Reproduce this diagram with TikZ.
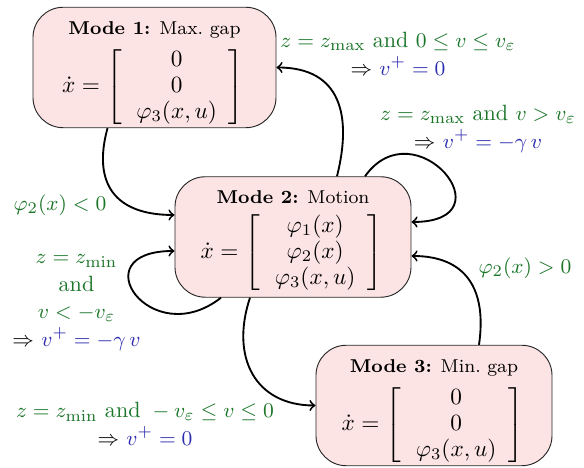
\documentclass[tikz,border=0pt]{standalone}
\usepackage{amsmath}
\usepackage{graphicx}
\usetikzlibrary{calc}
\definecolor{lblgreen}{RGB}{28,118,42}
\definecolor{lblblue}{RGB}{45,45,175}
\definecolor{modefill}{RGB}{253,228,228}
\newcommand{\sbr}[2]{\vcenter{\hbox{\scalebox{1}[0.905]{$\left#1\vphantom{\begin{array}{c}#2\end{array}}\right.$}}}}
\newcommand{\modetext}[3]{%
  \begin{minipage}[c][51.8pt][t]{#1}\centering
  \vspace*{6.1pt}{\footnotesize #2}\par\vspace{3.3pt}
  $\dot x = \sbr{[}{#3}\begin{array}{c}#3\end{array}\sbr{]}{#3}$\par
  \end{minipage}}
\begin{document}
\begin{tikzpicture}[x=0.43pt,y=0.43pt,
  mode/.style={draw=black!85, fill=modefill, rounded corners=13pt, inner sep=0pt},
  lbl/.style={text=lblgreen, align=center, inner sep=1pt, font=\fontsize{9.5}{11.8}\selectfont},
  conn/.style={thick, ->, black}]
\useasboundingbox (0,0) rectangle (584,468);
\renewcommand{\arraystretch}{0.93}
\node[mode] (m1) at (154.5,400.5)
  {\modetext{104.5pt}{\textbf{Mode 1:} Max.\ gap}{0\\0\\\varphi_3(x,u)}};
\node[mode] (m2) at (293,231)
  {\modetext{101.5pt}{\textbf{Mode 2:} Motion}{\varphi_1(x)\\\varphi_2(x)\\\varphi_3(x,u)}};
\node[mode] (m3) at (434,62.5)
  {\modetext{101.5pt}{\textbf{Mode 3:} Min.\ gap}{0\\0\\\varphi_3(x,u)}};
% labels
\node[lbl] (l1) at (398,414) {$z = z_{\max}$ and $0 \le v \le v_\varepsilon$\\
  {\color{black}$\Rightarrow$} $\color{lblblue}v^+ = 0$};
\node[lbl] (l2) at (478,339) {$z = z_{\max}$ and $v > v_\varepsilon$\\
  {\color{black}$\Rightarrow$} $\color{lblblue}v^+ = -\gamma\, v$};
\node[lbl] (l3) at (60,263) {$\varphi_2(x) < 0$};
\node[lbl] (l4) at (76.5,165.5) {$z = z_{\min}$\\and\\$v < -v_\varepsilon$\\
  {\color{black}$\Rightarrow$} $\color{lblblue}v^+ = -\gamma\, v$};
\node[lbl] (l5) at (145,44) {$z = z_{\min}$ and ${}- v_\varepsilon \le v \le 0$\\
  {\color{black}$\Rightarrow$} $\color{lblblue}v^+ = 0$};
\node[lbl] (l6) at (525,200) {$\varphi_2(x) > 0$};
% connectors
\draw[conn] ($(m1.south)+(-47,0)$) .. controls +(-15,-55) and +(-60,0) .. ($(m2.west)+(0,22)$);
\draw[conn] ($(m2.north)+(44,0)$) .. controls +(15,60) and +(65,0) .. (m1.east);
\draw[conn] ($(m2.north)+(72,0)$) .. controls +(50,70) and +(100,0) .. ($(m2.east)+(0,15)$);
\draw[conn] ($(m2.south)+(-72,0)$) .. controls +(-70,-55) and +(-95,0) .. ($(m2.west)+(0,-14)$);
\draw[conn] ($(m2.south)+(-43,0)$) .. controls +(-20,-60) and +(-60,0) .. (m3.west);
\draw[conn] ($(m3.north)+(45,0)$) .. controls +(8,55) and +(55,0) .. ($(m2.east)+(0,-19)$);
\end{tikzpicture}
\end{document}
